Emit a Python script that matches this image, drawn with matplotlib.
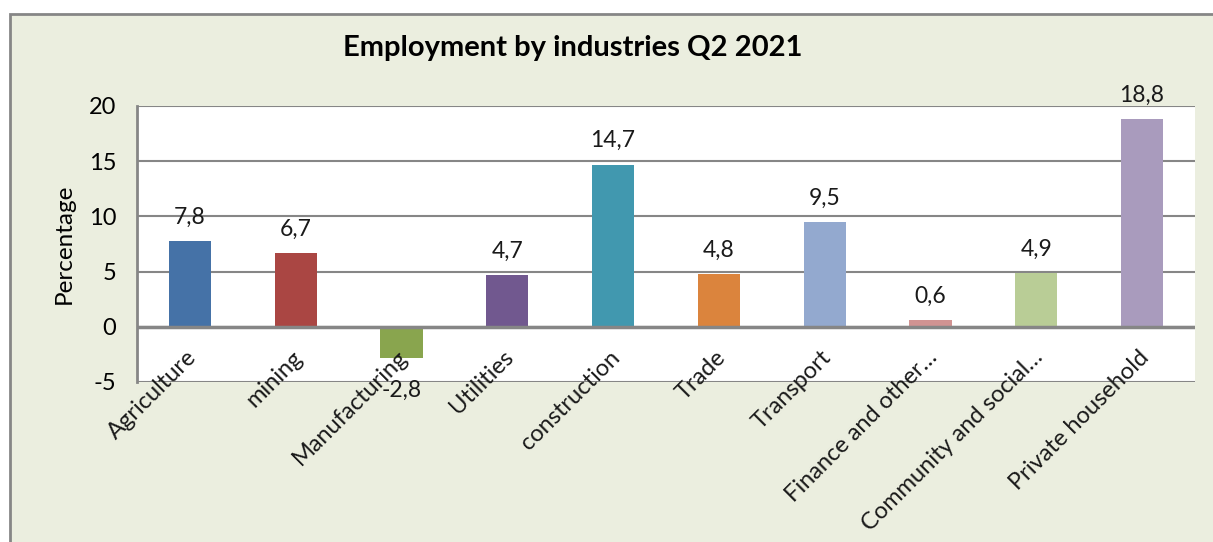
import matplotlib.pyplot as plt
from matplotlib.patches import Rectangle

industries = ["Agriculture", "mining", "Manufacturing", "Utilities", "construction",
              "Trade", "Transport", "Finance and other\u2026", "Community and social\u2026",
              "Private household"]
change = [7.8, 6.7, -2.8, 4.7, 14.7, 4.8, 9.5, 0.6, 4.9, 18.8]
colors = ["#4572A7", "#AA4643", "#89A54E", "#71588F", "#4198AF",
          "#DB843D", "#93A9CF", "#D19392", "#B9CD96", "#A99BBD"]
yticks = [-5, 0, 5, 10, 15, 20]

plt.rcParams['font.family'] = ['Lato', 'DejaVu Sans']

fig = plt.figure(figsize=(12.13, 5.42), dpi=100)
fig.patch.set_facecolor("white")
# beige chart panel with grey frame
fig.patches.append(Rectangle((10/1213, -0.1), 1.1, 0.1 + 1 - 14/542, transform=fig.transFigure,
                             facecolor="#EBEEDF", edgecolor="#868686", linewidth=2, zorder=-1))

ax = fig.add_axes([137/1213, 1 - 382/542, 1058/1213, 276/542])
ax.set_facecolor("white")
x = range(len(industries))
ax.bar(x, change, width=0.4, color=colors, zorder=3)

ax.set_xlim(-0.5, len(industries) - 0.5)
ax.set_ylim(-5, 20)
ax.set_yticks(yticks)
ax.set_yticklabels([str(t) for t in yticks], fontsize=17)
ax.tick_params(axis='y', length=0, pad=15)
ax.tick_params(axis='x', length=0)
ax.set_xticks([])
ax.grid(axis='y', color="#868686", linewidth=1.5, zorder=1)
ax.axhline(0, color="#868686", linewidth=2.5, zorder=4)
for side in ["top", "right", "bottom"]:
    ax.spines[side].set_visible(False)
ax.spines["left"].set_color("#868686")
ax.spines["left"].set_linewidth(2)

for i, v in enumerate(change):
    lbl = f"{v:.1f}".replace(".", ",")
    if v >= 0:
        ax.text(i, v + 1.2, lbl, ha='center', va='bottom', fontsize=16.5, color="#1a1a1a")
    else:
        ax.text(i, v - 2.0, lbl, ha='center', va='top', fontsize=16.5, color="#1a1a1a",
                zorder=6)

# category names sit slanted, partly inside the lower plot band
for i, name in enumerate(industries):
    ax.text(i - 0.04, -1.8, name, rotation=45, ha='right', va='top',
            rotation_mode='anchor', fontsize=17, color="#1a1a1a", clip_on=False, zorder=5)

ax.set_ylabel("Percentage", fontsize=17.5, labelpad=10)
fig.text(573/1213, 1 - 48/542, "Employment by industries Q2 2021", ha='center', va='center',
         fontsize=21, fontweight='bold')

fig.savefig("out.png", dpi=100)
